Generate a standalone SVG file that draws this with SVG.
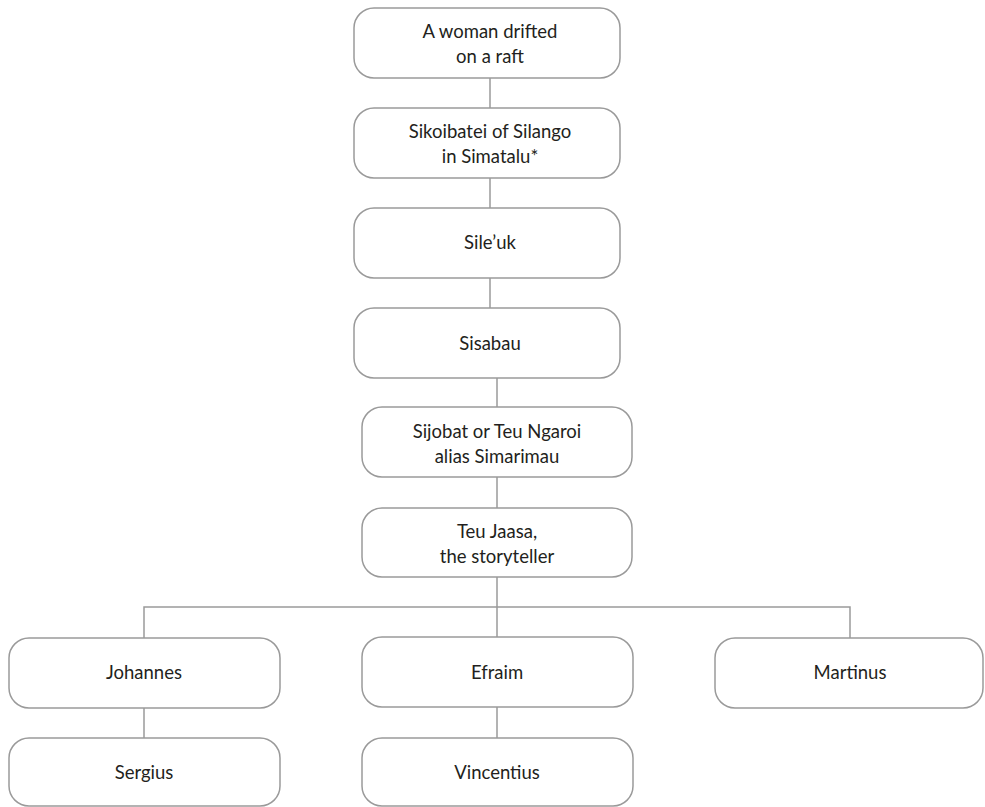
<svg xmlns="http://www.w3.org/2000/svg" width="985" height="807" viewBox="0 0 985 807">
  <style>
    .box { fill: #ffffff; stroke: #9a9a9a; stroke-width: 1.5; }
    .link { fill: none; stroke: #9a9a9a; stroke-width: 1.5; }
    .label { font-family: Lato, "Open Sans", "Liberation Sans", sans-serif; font-size: 18.5px; fill: #231f20; text-anchor: middle; }
  </style>
  <rect width="985" height="807" fill="#ffffff"/>

  <!-- connectors -->
  <g id="connectors">
    <line class="link" x1="490" y1="78" x2="490" y2="108"/>
    <line class="link" x1="490" y1="178" x2="490" y2="208"/>
    <line class="link" x1="490" y1="278" x2="490" y2="308"/>
    <line class="link" x1="497" y1="378" x2="497" y2="408"/>
    <line class="link" x1="497" y1="477" x2="497" y2="508"/>
    <line class="link" x1="497" y1="577" x2="497" y2="638"/>
    <polyline class="link" points="144,638 144,607 850,607 850,638"/>
    <line class="link" x1="144" y1="708" x2="144" y2="738"/>
    <line class="link" x1="497" y1="707" x2="497" y2="738"/>
  </g>

  <!-- lineage -->
  <g id="n-woman">
    <rect class="box" x="354" y="8" width="266" height="70" rx="20"/>
    <text class="label" x="490" y="38">A woman drifted</text>
    <text class="label" x="490" y="63">on a raft</text>
  </g>
  <g id="n-sikoibatei">
    <rect class="box" x="354" y="108" width="266" height="70" rx="20"/>
    <text class="label" x="490" y="138">Sikoibatei of Silango</text>
    <text class="label" x="490" y="163">in Simatalu*</text>
  </g>
  <g id="n-sileuk">
    <rect class="box" x="354" y="208" width="266" height="70" rx="20"/>
    <text class="label" x="490" y="249">Sile’uk</text>
  </g>
  <g id="n-sisabau">
    <rect class="box" x="354" y="308" width="266" height="70" rx="20"/>
    <text class="label" x="490" y="350">Sisabau</text>
  </g>
  <g id="n-sijobat">
    <rect class="box" x="362" y="407" width="270" height="70" rx="20"/>
    <text class="label" x="497" y="438">Sijobat or Teu Ngaroi</text>
    <text class="label" x="497" y="463">alias Simarimau</text>
  </g>
  <g id="n-teujaasa">
    <rect class="box" x="362" y="508" width="270" height="69" rx="20"/>
    <text class="label" x="497" y="538">Teu Jaasa,</text>
    <text class="label" x="497" y="563">the storyteller</text>
  </g>

  <!-- sons -->
  <g id="n-johannes">
    <rect class="box" x="9" y="638" width="271" height="70" rx="20"/>
    <text class="label" x="144" y="679">Johannes</text>
  </g>
  <g id="n-efraim">
    <rect class="box" x="362" y="637" width="271" height="70" rx="20"/>
    <text class="label" x="497" y="679">Efraim</text>
  </g>
  <g id="n-martinus">
    <rect class="box" x="715" y="638" width="268" height="70" rx="20"/>
    <text class="label" x="850" y="679">Martinus</text>
  </g>

  <!-- grandsons -->
  <g id="n-sergius">
    <rect class="box" x="9" y="738" width="271" height="68" rx="20"/>
    <text class="label" x="144" y="779">Sergius</text>
  </g>
  <g id="n-vincentius">
    <rect class="box" x="362" y="738" width="271" height="68" rx="20"/>
    <text class="label" x="497" y="779">Vincentius</text>
  </g>
</svg>
